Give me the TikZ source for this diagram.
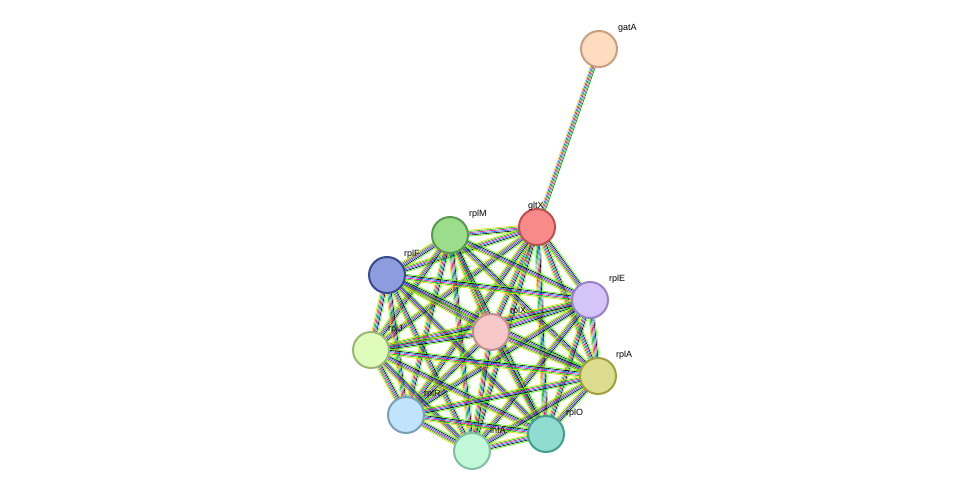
\documentclass[tikz,border=0pt]{standalone}
\usepackage{fontspec}
\setmainfont{Liberation Sans}
\usetikzlibrary{calc}
\newcommand\myedge[2]{%
  \foreach \o/\c in {-3/yellow!80!olive,-1.8/green!80!black,-0.6/magenta,0.6/blue!60!cyan,1.8/black,3/green!60!lime}{%
    \draw[\c, line width=0.6pt] ($(#1)!\o pt!90:(#2)$) -- ($(#2)!\o pt!-90:(#1)$);}}
\definecolor{fgatA}{HTML}{FDDCBF}\definecolor{sgatA}{HTML}{C8A07F}
\definecolor{fgltX}{HTML}{F88A8A}\definecolor{sgltX}{HTML}{C05050}
\definecolor{frplM}{HTML}{9CDD8C}\definecolor{srplM}{HTML}{5A9A50}
\definecolor{frplF}{HTML}{8C9CDD}\definecolor{srplF}{HTML}{3A4A90}
\definecolor{frplE}{HTML}{D4C4F8}\definecolor{srplE}{HTML}{9A80C8}
\definecolor{frplX}{HTML}{F8C8C8}\definecolor{srplX}{HTML}{C09090}
\definecolor{frplJ}{HTML}{E0FCBC}\definecolor{srplJ}{HTML}{9AB870}
\definecolor{frplA}{HTML}{DDDD90}\definecolor{srplA}{HTML}{A0A040}
\definecolor{frplR}{HTML}{C0E4FC}\definecolor{srplR}{HTML}{7AA0B8}
\definecolor{frplO}{HTML}{90DCD0}\definecolor{srplO}{HTML}{40A090}
\definecolor{finfA}{HTML}{C0F8D8}\definecolor{sinfA}{HTML}{80C0A0}
\begin{document}
\begin{tikzpicture}[x=1pt,y=-1pt,
  prot/.style={circle,minimum size=36pt,inner sep=0pt,line width=2pt},
  lab/.style={anchor=west,font=\fontsize{9}{10}\selectfont,inner sep=0pt}]
\useasboundingbox[fill=white] (0,0) rectangle (975,497);
\foreach \n/\x/\y in {gatA/599/49,gltX/537/227,rplM/450/235,rplF/387/275,rplE/590/300,rplX/491/332,rplJ/371/350,rplA/598/376,rplR/406/415,rplO/546/434,infA/472/451}
  \coordinate (\n) at (\x,\y);
\foreach \a [count=\i] in {gltX,rplM,rplF,rplE,rplX,rplJ,rplA,rplR,rplO,infA}{
  \foreach \b [count=\j] in {gltX,rplM,rplF,rplE,rplX,rplJ,rplA,rplR,rplO,infA}{
    \ifnum\j>\i \myedge{\a}{\b}\fi}}
\foreach \o/\c in {-2.4/yellow!80!olive,-1.2/blue!60!cyan,0/magenta,1.2/green!80!black,2.4/green!50!black}
  \draw[\c, line width=0.6pt] ($(gatA)!\o pt!90:(gltX)$) -- ($(gltX)!\o pt!-90:(gatA)$);
\foreach \n/\lx/\ly in {gatA/618/28,gltX/528/206,rplM/469/214,rplF/404/254,rplE/609/279,rplX/510/311,rplJ/388/329,rplA/616/355,rplR/424/394,rplO/566/413,infA/490/430}{
  \node[prot,fill=f\n,draw=s\n] (n\n) at (\n) {};
  \node[lab] (l\n) at (\lx,\ly) {\n};}
\end{tikzpicture}
\end{document}
